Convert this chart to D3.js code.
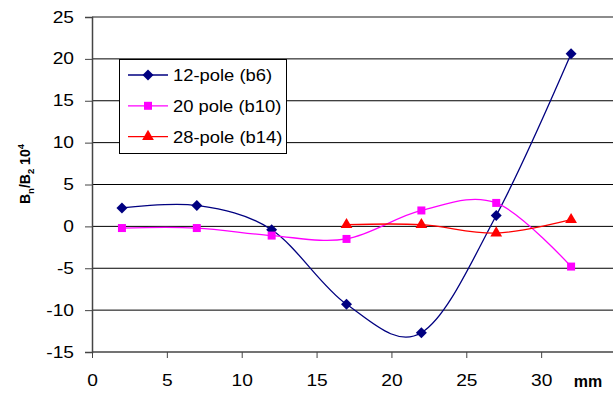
<!DOCTYPE html>
<html lang="en">
<head>
    <meta charset="UTF-8">
    <title>Multipole</title>
    <script src="https://d3js.org/d3.v7.min.js"></script>
    <style>
        body { margin: 0; background: #fff; }
        text { font-family: Arial, "Liberation Sans", sans-serif; }
    </style>
</head>
<body>
<script>
    const width  = 613;
    const height = 393;

    // data (mm vs Bn/B2 * 10^4)
    const pos12 = [2, 7, 12, 17, 22, 27, 32];
    const b6    = [2.2, 2.5, -0.4, -9.3, -12.7, 1.3, 20.6];
    const pos20 = [2, 7, 12, 17, 22, 27, 32];
    const b10   = [-0.2, -0.2, -1.1, -1.5, 1.9, 2.8, -4.8];
    const pos28 = [17, 22, 27, 32];
    const b14   = [0.2, 0.2, -0.8, 0.8];
    const seriesNames = ["12-pole (b6)", "20 pole (b10)", "28-pole (b14)"];
    const xTicks = [0, 5, 10, 15, 20, 25, 30];
    const yTicks = [-15, -10, -5, 0, 5, 10, 15, 20, 25];

    const x = d3.scaleLinear().domain([0, 35]).range([92, 616]);
    const y = d3.scaleLinear().domain([-15, 25]).range([352, 17]);

    const svg = d3.select("body").append("svg").attr("width", width).attr("height", height);

    // the original text is a bit wider than plain Arial
    function widen(sel, k) {
        sel.each(function() {
            const t = d3.select(this);
            const tx = +t.attr("x") || 0, ty = +t.attr("y") || 0;
            t.attr("transform", `translate(${tx},${ty}) scale(${k},1) translate(${-tx},${-ty})`);
        });
    }

    // gridlines
    svg.selectAll("line.grid")
       .data(yTicks.filter(d => d > -15 && d < 25))
       .join("line").attr("class", "grid")
       .attr("x1", x(0)).attr("x2", width)
       .attr("y1", d => y(d)).attr("y2", d => y(d))
       .attr("stroke", "#000").attr("stroke-width", 1);
    svg.append("line")
       .attr("x1", x(0)).attr("x2", width).attr("y1", y(25)).attr("y2", y(25))
       .attr("stroke", "#666").attr("stroke-width", 1.5);

    const fmt = d => String(d);   // plain hyphen minus like the original

    // axes
    const yAxis = svg.append("g").attr("transform", `translate(${x(0)},0)`)
        .call(d3.axisLeft(y).tickValues(yTicks).tickFormat(fmt).tickSize(7).tickPadding(11));
    const xAxis = svg.append("g").attr("transform", `translate(0,${y(-15)})`)
        .call(d3.axisBottom(x).tickValues(xTicks).tickFormat(fmt).tickSize(6).tickPadding(17));
    [xAxis, yAxis].forEach(g => {
        g.select(".domain").attr("stroke", "#444").attr("stroke-width", 1.5);
        g.selectAll(".tick line").attr("stroke", "#444").attr("stroke-width", 1);
        g.selectAll("text").attr("font-size", 16).attr("fill", "#000")
         .style("font-family", "Arial, 'Liberation Sans', sans-serif")
         .call(widen, 1.2);
    });
    xAxis.select(".domain").attr("d", `M${x(0)},0H${width}`);

    svg.append("text").attr("x", 588).attr("y", 387)
       .attr("text-anchor", "middle").attr("font-size", 16).attr("font-weight", "bold").text("mm");

    const yl = svg.append("text")
       .attr("transform", "translate(30,174) rotate(-90)")
       .attr("text-anchor", "middle").attr("font-size", 14).attr("font-weight", "bold");
    yl.append("tspan").text("B");
    yl.append("tspan").attr("font-size", 9.5).attr("dy", 4).text("n");
    yl.append("tspan").attr("dy", -4).text("/B");
    yl.append("tspan").attr("font-size", 9.5).attr("dy", 4).text("2");
    yl.append("tspan").attr("dy", -4).text(" 10");
    yl.append("tspan").attr("font-size", 9.5).attr("dy", -6).text("4");

    const line = d3.line().x(d => x(d[0])).y(d => y(d[1])).curve(d3.curveCardinal.tension(0));

    const diamond = {draw(ctx, size) {
        const r = Math.sqrt(size / 2);
        ctx.moveTo(0, -r); ctx.lineTo(r, 0); ctx.lineTo(0, r); ctx.lineTo(-r, 0); ctx.closePath();
    }};

    const series = [
        {name: seriesNames[0], pts: d3.zip(pos12, b6),  color: "#000080", sym: diamond,          size: 60},
        {name: seriesNames[1], pts: d3.zip(pos20, b10), color: "#ff00ff", sym: d3.symbolSquare,  size: 64},
        {name: seriesNames[2], pts: d3.zip(pos28, b14), color: "#ff0000", sym: d3.symbolTriangle, size: 60}
    ];

    series.forEach(s => {
        svg.append("path").attr("d", line(s.pts))
           .attr("fill", "none").attr("stroke", s.color).attr("stroke-width", 1.3);
    });
    series.forEach(s => {
        svg.selectAll(null).data(s.pts).join("path")
           .attr("d", d3.symbol().type(s.sym).size(s.size))
           .attr("transform", d => `translate(${x(d[0])},${y(d[1])})`)
           .attr("fill", s.color);
    });

    // legend
    const lg = svg.append("g");
    lg.append("rect").attr("x", 119.5).attr("y", 59.5).attr("width", 167).attr("height", 94)
      .attr("fill", "#fff").attr("stroke", "#000").attr("stroke-width", 1);
    series.forEach((s, i) => {
        const ly = 75 + i * 30.8;
        lg.append("line").attr("x1", 128).attr("x2", 168).attr("y1", ly).attr("y2", ly)
          .attr("stroke", s.color).attr("stroke-width", 1.3);
        lg.append("path").attr("d", d3.symbol().type(s.sym).size(s.size))
          .attr("transform", `translate(148,${ly})`).attr("fill", s.color);
        lg.append("text").attr("x", 173).attr("y", ly + 6).attr("font-size", 16).text(s.name)
          .call(widen, 1.15);
    });
</script>
</body>
</html>
